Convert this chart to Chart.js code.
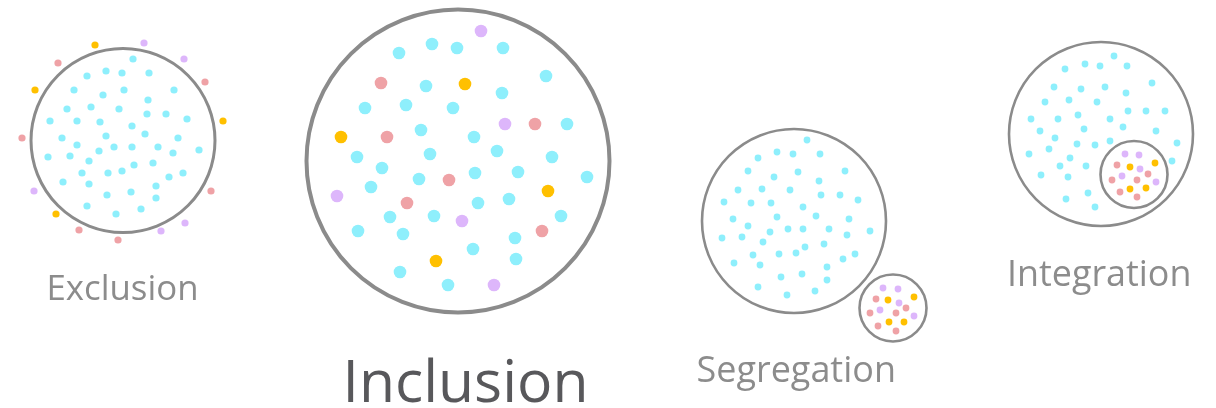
<!DOCTYPE html>
<html>
<head>
<meta charset="utf-8">
<script src="https://cdn.jsdelivr.net/npm/chart.js@4/dist/chart.umd.min.js"></script>
<style>
html,body{margin:0;padding:0;background:#fff;}
#wrap{position:relative;width:1216px;height:408px;}
</style>
</head>
<body>
<div id="wrap"><canvas id="c"></canvas></div>
<script>
// ---- Data (pixel-space coordinates) ----
const groupNames = ["Exclusion", "Inclusion", "Segregation", "Integration"];

// Outline circles: [x, y, radius]
const circles = [[123, 140.5, 92], [458, 161, 151.5], [794, 221, 92], [893, 308, 33.5], [1101, 134, 92], [1134, 174.5, 33.5]];
const circleWidths = [3, 4, 2.6, 2.6, 2.6, 2.6];

// Exclusion
const exclusionCyan = [[133,59],[87,76],[106,71],[122,73],[149,73],[74,90],[103,95],[124,90],[148,100],[174,90],[67,109],[91,107],[119,109],[147,114],[166,114],[187,119],[50,121],[77,121],[100,122],[132,126],[145,134],[178,138],[62,138],[106,136],[77,145],[114,147],[132,147],[158,147],[99,151],[199,150],[48,157],[70,156],[89,161],[173,153],[134,165],[153,163],[82,173],[108,173],[122,171],[183,173],[169,177],[63,182],[89,184],[156,186],[107,195],[131,192],[156,198],[87,206],[116,214],[141,209]];
const exclusionPink = [[58,63],[205,82],[22,138],[211,191],[79,230],[118,240]];
const exclusionYellow = [[95,45],[35,90],[223,121],[56,214]];
const exclusionPurple = [[144,43],[184,59],[34,191],[185,223],[161,231]];

// Inclusion
const inclusionCyan = [[399,53],[432,44],[457,48],[503,48],[546,76],[426,86],[502,93],[365,108],[406,105],[453,108],[567,124],[421,130],[474,137],[357,157],[430,154],[497,151],[552,157],[382,168],[419,179],[475,173],[518,172],[587,177],[371,187],[478,203],[509,199],[561,216],[390,217],[434,216],[358,231],[403,234],[515,238],[473,249],[516,259],[400,272],[448,285]];
const inclusionPink = [[381,83],[387,137],[535,124],[449,180],[407,203],[542,231]];
const inclusionYellow = [[465,84],[341,137],[548,191],[436,261]];
const inclusionPurple = [[481,31],[505,124],[337,196],[462,221],[494,285]];

// Segregation
const segregationCyan = [[807,140],[758,158],[777,152],[793,154],[820,154],[748,171],[774,177],[798,172],[819,181],[845,171],[738,190],[762,189],[790,190],[821,195],[840,195],[858,200],[724,202],[751,203],[771,203],[803,207],[816,216],[849,219],[733,219],[777,217],[748,226],[788,229],[803,229],[829,229],[870,231],[770,232],[722,238],[742,237],[763,242],[847,235],[805,247],[824,244],[753,255],[779,254],[796,253],[843,259],[855,254],[734,263],[760,265],[827,267],[781,277],[802,274],[827,280],[758,287],[787,295],[815,291]];
const segregationPink = [[876,299],[906,308],[870,313],[896,313],[878,326],[896,331]];
const segregationYellow = [[888,300],[914,297],[889,322],[904,322]];
const segregationPurple = [[883,288],[898,289],[899,303],[880,310],[914,316]];

// Integration
const integrationCyan = [[1114,56],[1065,69],[1085,64],[1100,66],[1127,66],[1054,87],[1081,89],[1105,87],[1126,93],[1152,83],[1045,102],[1069,100],[1097,102],[1128,111],[1146,111],[1165,111],[1031,119],[1058,119],[1078,115],[1110,119],[1123,127],[1156,131],[1040,131],[1084,129],[1055,138],[1110,141],[1095,145],[1077,144],[1177,143],[1049,149],[1029,154],[1070,158],[1172,161],[1060,166],[1086,166],[1041,175],[1068,177],[1066,199],[1088,193],[1095,207]];
const integrationPink = [[1117,165],[1148,174],[1112,180],[1137,180],[1120,192],[1137,197]];
const integrationYellow = [[1130,167],[1155,163],[1130,189],[1146,188]];
const integrationPurple = [[1125,154],[1139,155],[1140,169],[1122,176],[1156,182]];

// Labels: [text, left x, baseline y, width]
const labelTexts = ["Exclusion", "Inclusion", "Segregation", "Integration"];
const labelLeft = [46.5, 342.5, 696.5, 1007];
const labelBaseline = [299.5, 401.5, 382, 286];
const labelWidth = [152, 246, 199.5, 184.5];
const labelColors = ["#8c8c8c", "#58585b", "#8c8c8c", "#8c8c8c"];

// ---- Styling ----
const COL = {cyan: "#8eeffc", pink: "#efa2a6", yellow: "#ffc000", purple: "#ddb6fb"};
const dotR = [3.6, 6.3, 3.4, 3.4];

const toPts = a => a.map(p => ({x: p[0], y: p[1]}));
const groups = [
  [exclusionCyan, exclusionPink, exclusionYellow, exclusionPurple],
  [inclusionCyan, inclusionPink, inclusionYellow, inclusionPurple],
  [segregationCyan, segregationPink, segregationYellow, segregationPurple],
  [integrationCyan, integrationPink, integrationYellow, integrationPurple]
];
const colorKeys = ["cyan", "pink", "yellow", "purple"];

const datasets = [];
datasets.push({
  type: "bubble",
  label: "outlines",
  data: circles.map(c => ({x: c[0], y: c[1], r: c[2]})),
  backgroundColor: "rgba(255,255,255,0)",
  borderColor: "#8b8b8b",
  borderWidth: circleWidths,
  clip: false,
  order: 10
});
groups.forEach((g, gi) => {
  g.forEach((arr, ci) => {
    datasets.push({
      type: "scatter",
      label: groupNames[gi] + " " + colorKeys[ci],
      data: toPts(arr),
      backgroundColor: COL[colorKeys[ci]],
      borderWidth: 0,
      pointRadius: dotR[gi],
      pointHoverRadius: dotR[gi],
      clip: false,
      order: 1
    });
  });
});

const labelPlugin = {
  id: "labels",
  afterDatasetsDraw(chart) {
    const ctx = chart.ctx;
    const xs = chart.scales.x, ys = chart.scales.y;
    ctx.save();
    labelTexts.forEach((t, i) => {
      ctx.font = "100px 'Open Sans'";
      const w100 = ctx.measureText(t).width;
      const size = 100 * labelWidth[i] / w100;
      ctx.font = size + "px 'Open Sans'";
      ctx.fillStyle = labelColors[i];
      ctx.textAlign = "left";
      ctx.textBaseline = "alphabetic";
      ctx.fillText(t, xs.getPixelForValue(labelLeft[i]), ys.getPixelForValue(labelBaseline[i]));
    });
    ctx.restore();
  }
};

new Chart(document.getElementById("c"), {
  type: "scatter",
  data: {datasets},
  options: {
    responsive: true,
    maintainAspectRatio: false,
    animation: false,
    layout: {padding: 0, autoPadding: false},
    plugins: {legend: {display: false}, tooltip: {enabled: false}},
    events: [],
    scales: {
      x: {type: "linear", min: 0, max: 1216, display: false},
      y: {type: "linear", min: 0, max: 408, reverse: true, display: false}
    }
  },
  plugins: [labelPlugin]
});
</script>
</body>
</html>
